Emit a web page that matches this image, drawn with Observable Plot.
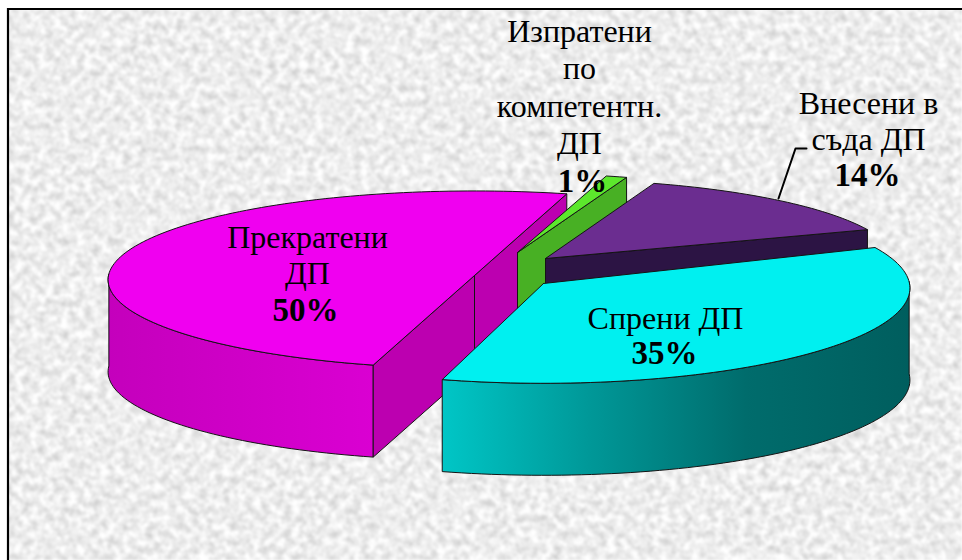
<!DOCTYPE html>
<html><head><meta charset="utf-8">
<style>html,body{margin:0;padding:0;background:#fff;overflow:hidden}svg{display:block}</style>
<script src="https://cdn.jsdelivr.net/npm/d3@7"></script>
<script src="https://cdn.jsdelivr.net/npm/@observablehq/plot@0.6"></script>
</head><body>
<script>
// Data
const values = [50, 1, 14, 35];
const labelLines = [
  ["Прекратени", "ДП"],
  ["Изпратени", "по", "компетентн.", "ДП"],
  ["Внесени в", "съда ДП"],
  ["Спрени ДП"]
];
// Drawing layout
const startAngle = 105.3;
const perspective = 0.048, depth = 92;
const discs = [
  {cx: 474, cy: 275, rx: 366, ry: 88.6, lead: 0},
  {cx: 517, cy: 252, rx: 352, ry: 83, lead: 0},
  {cx: 545, cy: 258, rx: 350, ry: 83, lead: 0},
  {cx: 543, cy: 283, rx: 366, ry: 95, lead: 2}
];
const labelPos = [
  {x: 307, y: 237, step: 36.5, pctDx: -2},
  {x: 579, y: 31, step: 37.5, pctDx: 3},
  {x: 868, y: 103, step: 36, pctDx: -1},
  {x: 665, y: 318, step: 35, pctDx: -1}
];
const topFill = ["#f000f0", "#5ce82c", "#6b2d90", "#00f0f0"];
const cutFill = ["#bc00b0", "#48b024", "#2c1444", "#00c4c4"];
const leader = [{x: 778, y: 198}, {x: 795, y: 148}, {x: 806, y: 148}];

// Slice angles from the values
const total = d3.sum(values);
let acc = 0;
const angles = values.map((v, i) => { const a0 = startAngle + acc / total * 360 - discs[i].lead; acc += v; return [a0, startAngle + acc / total * 360]; });
const rad = d => d * Math.PI / 180;
function rimPoint(disc, deg) {
  const X = Math.cos(rad(deg)), Y = Math.sin(rad(deg)), w = 1 - perspective * Y;
  return {x: disc.cx + disc.rx * X / w, y: disc.cy + disc.ry * Y / w};
}
function arcPoints(disc, a0, a1) {
  const n = Math.max(2, Math.ceil(Math.abs(a1 - a0) / 1.5));
  return d3.range(n + 1).map(i => rimPoint(disc, a0 + (a1 - a0) * i / n));
}
const apex = d => ({x: d.cx, y: d.cy});
const down = p => ({x: p.x, y: p.y + depth});
const closed = pts => [...pts, pts[0]];
const poly = (pts, fill, strokeWidth = 1) => Plot.line(closed(pts), {x: "x", y: "y", fill, stroke: "#141414", strokeWidth, strokeLinejoin: "round", curve: "linear"});
const band = (disc, a0, a1, fill) => { const r = arcPoints(disc, a0, a1); return poly([...r, ...r.slice().reverse().map(down)], fill); };
const cutFace = (disc, p, fill) => { const c = apex(disc); return poly([c, p, down(p), down(c)], fill); };
const topFace = (i) => poly([apex(discs[i]), ...arcPoints(discs[i], angles[i][0], angles[i][1])], topFill[i]);

// Background: paper texture, gradients and frame
const backdrop = (index, {x, y}) => {
  const g = d3.create("svg:g");
  const defs = g.append("defs");
  const f = defs.append("filter").attr("id", "paper").attr("x", 0).attr("y", 0).attr("width", 1).attr("height", 1).attr("color-interpolation-filters", "sRGB");
  f.append("feTurbulence").attr("type", "fractalNoise").attr("baseFrequency", "0.13").attr("numOctaves", 3).attr("seed", 7);
  f.append("feColorMatrix").attr("type", "matrix").attr("values", "0.32 0 0 0 0.77  0.32 0 0 0 0.77  0.32 0 0 0 0.77  0 0 0 0 1");
  f.append("feGaussianBlur").attr("stdDeviation", 0.8);
  const grad = (id, x1, x2, stops) => {
    const l = defs.append("linearGradient").attr("id", id).attr("gradientUnits", "userSpaceOnUse")
      .attr("x1", x(x1)).attr("x2", x(x2)).attr("y1", 0).attr("y2", 0);
    stops.forEach(([o, c]) => l.append("stop").attr("offset", o).attr("stop-color", c));
  };
  grad("cyanSide", 442, 909, [[0, "#00c6c6"], [0.3, "#009a9a"], [0.65, "#006c6c"], [1, "#005e5e"]]);
  grad("magentaSide", 108, 373, [[0, "#c400bc"], [1, "#da00d2"]]);
  g.append("rect").attr("x", x(8)).attr("y", y(9)).attr("width", x(962) - x(8)).attr("height", y(560) - y(9)).attr("filter", "url(#paper)");
  g.append("path").attr("d", `M${x(8)},${y(560)}V${y(9)}H${x(962)}`).attr("fill", "none").attr("stroke", "#000").attr("stroke-width", 2.2);
  return g.node();
};

const textRows = labelLines.flatMap((lines, i) => lines.map((t, j) => ({t, x: labelPos[i].x, y: labelPos[i].y + j * labelPos[i].step})));
const pctRows = values.map((v, i) => ({t: `${v}%`, x: labelPos[i].x + labelPos[i].pctDx, y: labelPos[i].y + labelLines[i].length * labelPos[i].step}));

const chart = Plot.plot({
  width: 962, height: 560, margin: 0,
  x: {domain: [0, 962], range: [0, 962], axis: null},
  y: {domain: [0, 560], range: [0, 560], axis: null},
  style: {background: "#fff", overflow: "hidden"},
  marks: [
    backdrop,
    band(discs[0], angles[0][0], 181, "url(#magentaSide)"),
    cutFace(discs[0], rimPoint(discs[0], angles[0][0]), cutFill[0]),
    cutFace(discs[0], rimPoint(discs[0], angles[0][1]), cutFill[0]),
    topFace(0),
    cutFace(discs[1], rimPoint(discs[1], angles[1][1]), cutFill[1]),
    topFace(1),
    cutFace(discs[2], rimPoint(discs[2], angles[2][1]), cutFill[2]),
    topFace(2),
    band(discs[3], 359, angles[3][1], "url(#cyanSide)"),
    topFace(3),
    Plot.line(leader, {x: "x", y: "y", stroke: "#000", strokeWidth: 2, curve: "linear"}),
    Plot.text(textRows, {x: "x", y: "y", text: "t", fontFamily: "Liberation Serif", fontSize: 32, fill: "#000", lineAnchor: "middle", textAnchor: "middle"}),
    Plot.text(pctRows, {x: "x", y: "y", text: "t", fontFamily: "Liberation Serif", fontSize: 33, fontWeight: "bold", fill: "#000", lineAnchor: "middle", textAnchor: "middle"})
  ]
});
document.body.append(chart);
</script>
</body></html>
